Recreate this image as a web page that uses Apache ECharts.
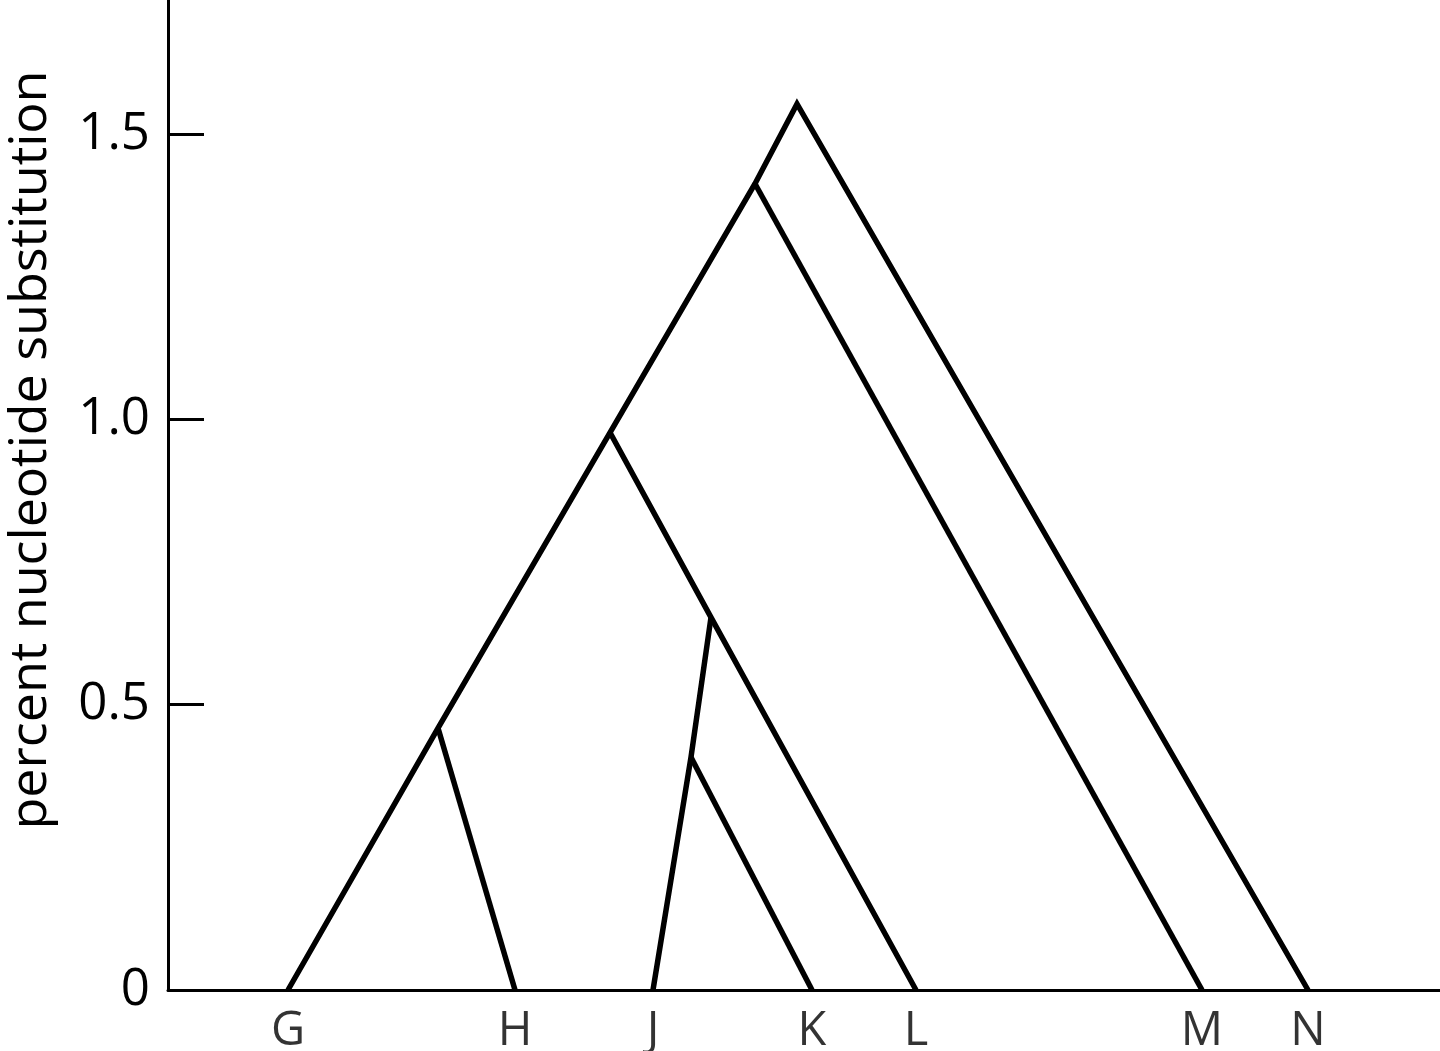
<!DOCTYPE html>
<html>
<head>
<meta charset="utf-8">
<script src="https://cdn.jsdelivr.net/npm/echarts@6/dist/echarts.min.js"></script>
<style>
html,body{margin:0;padding:0;background:#fff;}
#chart{width:1440px;height:1051px;}
</style>
</head>
<body>
<div id="chart"></div>
<script>
// Tips (species) on the time axis (y = 0)
const tipNames = ['G', 'H', 'J', 'K', 'L', 'M', 'N'];
const tipX = [1.20, 3.47, 4.85, 6.44, 7.48, 10.34, 11.40];
// Internal nodes: horizontal position and percent nucleotide substitution
const nodeNames = ['root', 'A', 'B', 'C', 'D', 'E'];
const nodeX = [6.29, 5.87, 4.42, 2.70, 5.43, 5.23];
const nodeY = [1.553, 1.413, 0.977, 0.459, 0.653, 0.408];
// Branch paths, by node name
const branchPaths = [
  ['G', 'C', 'B', 'A', 'root', 'N'],
  ['A', 'M'],
  ['B', 'D', 'L'],
  ['C', 'H'],
  ['D', 'E', 'J'],
  ['E', 'K']
];
const yTickValues = [0, 0.5, 1.0, 1.5];
const yTickLabels = ['0', '0.5', '1.0', '1.5'];
const yTitle = 'percent nucleotide substitution';

const pos = {};
tipNames.forEach((n, i) => { pos[n] = [tipX[i], 0]; });
nodeNames.forEach((n, i) => { pos[n] = [nodeX[i], nodeY[i]]; });

const FONT = '"Open Sans", "Noto Sans", sans-serif';
const chart = echarts.init(document.getElementById('chart'), null, {renderer: 'canvas'});
chart.setOption({
  animation: false,
  backgroundColor: '#fff',
  grid: {left: 168, right: 0, top: 0, bottom: 61, containLabel: false},
  xAxis: {
    type: 'value', min: 0, max: 12.72,
    axisLine: {show: true, lineStyle: {color: '#000', width: 3}},
    axisTick: {show: false}, axisLabel: {show: false}, splitLine: {show: false}
  },
  yAxis: {
    type: 'value', min: 0, max: 1.735, interval: 0.5,
    axisLine: {show: true, lineStyle: {color: '#000', width: 3}},
    axisTick: {show: true, inside: true, length: 36, customValues: yTickValues,
      lineStyle: {color: '#000', width: 3}},
    axisLabel: {show: true, customValues: yTickValues, margin: 18,
      fontSize: 51, fontFamily: FONT, color: '#000',
      formatter: v => { const i = yTickValues.findIndex(t => Math.abs(t - v) < 1e-6); return i >= 0 ? yTickLabels[i] : ''; }},
    splitLine: {show: false}
  },
  graphic: [{
    type: 'text', x: 31, y: 450, rotation: Math.PI / 2,
    style: {text: yTitle, fontSize: 52, fontFamily: FONT, fill: '#000',
      textAlign: 'center', textVerticalAlign: 'middle'}
  }],
  series: [
    {
      type: 'lines', coordinateSystem: 'cartesian2d', polyline: true, silent: true,
      lineStyle: {color: '#000', width: 5.5, opacity: 1, cap: 'butt', join: 'miter', curveness: 0},
      data: branchPaths.map(p => ({coords: p.map(n => pos[n])}))
    },
    {
      type: 'scatter', symbolSize: 0, silent: true, clip: false,
      data: tipNames.map((n, i) => ({name: n, value: [tipX[i], 0]})),
      label: {show: true, position: 'bottom', distance: 18, formatter: '{b}',
        fontSize: 47, fontFamily: FONT, color: '#000'}
    }
  ]
});
</script>
</body>
</html>
